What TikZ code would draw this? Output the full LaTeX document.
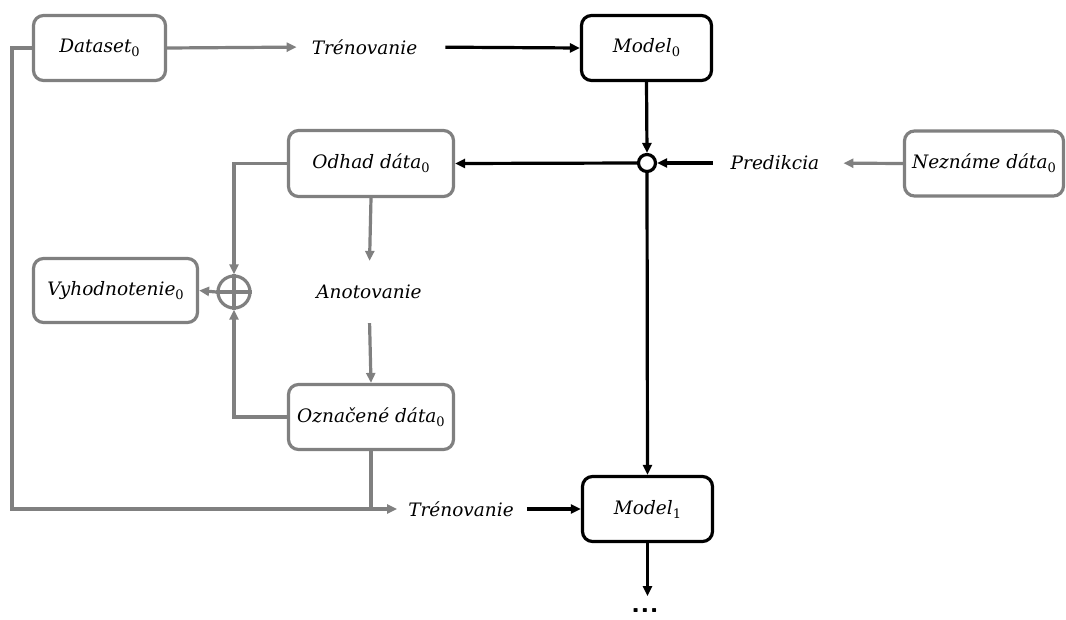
\documentclass[tikz,border=0pt]{standalone}
\usepackage{fontspec}
\setmainfont{DejaVu Serif}
\usetikzlibrary{arrows.meta}
\definecolor{linegray}{RGB}{128,128,128}
% italic label face
\newcommand\lblfont{\fontsize{18.5}{22}\selectfont\itshape}
% upright index set below the baseline
\newcommand\idx[1]{\raisebox{-0.22em}{\fontsize{13}{13}\selectfont\upshape #1}}
\tikzset{
  box/.style={draw, rounded corners=10pt, line width=3.2pt, inner sep=0pt, fill=white,
              font=\lblfont},
  graybox/.style={box, draw=linegray},
  blackbox/.style={box, draw=black},
  lbl/.style={inner sep=0pt, font=\lblfont},
  tip/.style={-{Triangle[length=10pt,width=9pt]}},
  gline/.style={draw=linegray, line width=3.2pt},
  bline/.style={draw=black, line width=3.2pt},
  garrow/.style={gline, tip},
  barrow/.style={bline, tip},
}
\begin{document}
\begin{tikzpicture}[x=1pt,y=-1pt]
\useasboundingbox (0,0) rectangle (1066,619);

% boxes
\node[graybox, minimum width=132pt, minimum height=65pt] (ds) at (99.5,48) {Dataset\idx{0}};
\node[blackbox, minimum width=130pt, minimum height=65pt] (m0) at (646.5,48) {Model\idx{0}};
\node[graybox, minimum width=165pt, minimum height=66pt] (od) at (371,163.5) {Odhad dáta\idx{0}};
\node[graybox, minimum width=159pt, minimum height=65pt] (nz) at (984,163.5) {Neznáme dáta\idx{0}};
\node[graybox, minimum width=164pt, minimum height=64pt] (vy) at (115.5,290.5) {Vyhodnotenie\idx{0}};
\node[graybox, minimum width=165pt, minimum height=65pt] (oz) at (371,417) {Označené dáta\idx{0}};
\node[blackbox, minimum width=130pt, minimum height=65pt] (m1) at (647.5,509) {Model\idx{1}};

% labels
\node[lbl] (tr0) at (364.5,47) {Trénovanie};
\node[lbl] (tr1) at (461,509) {Trénovanie};
\node[lbl] (pr) at (775,163) {Predikcia};
\node[lbl] (an) at (369,292) {Anotovanie};
\node[font=\fontsize{30}{30}\selectfont\sffamily\bfseries, inner sep=0pt] (dots) at (645,611) {...};

% junctions
\node[circle, draw=black, line width=3.2pt, fill=white, minimum size=17pt, inner sep=0pt] (jn) at (647,163) {};
\node[circle, draw=linegray, line width=3.2pt, fill=white, minimum size=32pt, inner sep=0pt] (sum) at (234,292) {};
\draw[gline] (sum.north) -- (sum.south) (sum.west) -- (sum.east);

% training of the first model
\draw[garrow, shorten >=15pt] (ds.east) -- (tr0.west);
\draw[barrow, shorten <=28pt] (tr0.east) -- (m0.west);
\draw[barrow] (m0.south) -- (jn.north);

% prediction on unknown data
\draw[garrow, shorten >=24pt] (nz.west) -- (pr.east);
\draw[barrow, shorten <=18pt] (pr.west) -- (jn.east);
\draw[barrow] (jn.west) -- (od.east);
\draw[barrow] (jn.south) -- (m1.north);

% annotation
\draw[garrow, shorten >=24pt] (od.south) -- (an.north);
\draw[garrow, shorten <=24pt] (an.south) -- (oz.north);

% evaluation
\draw[garrow] (od.west) -| (sum.north);
\draw[garrow] (oz.west) -| (sum.south);
\draw[garrow] (sum.west) -- (vy.east);

% training of the next model
\coordinate (lx) at (12,0);
\draw[garrow, shorten >=11pt] (ds.west) -- (ds.west -| lx) |- (tr1.west);
\draw[gline] (oz.south) -- (oz.south |- tr1.west);
\draw[barrow, shorten <=13pt] (tr1.east) -- (m1.west);
\draw[barrow] (m1.south) -- ++(0,53) coordinate (m1out);
\end{tikzpicture}
\end{document}
